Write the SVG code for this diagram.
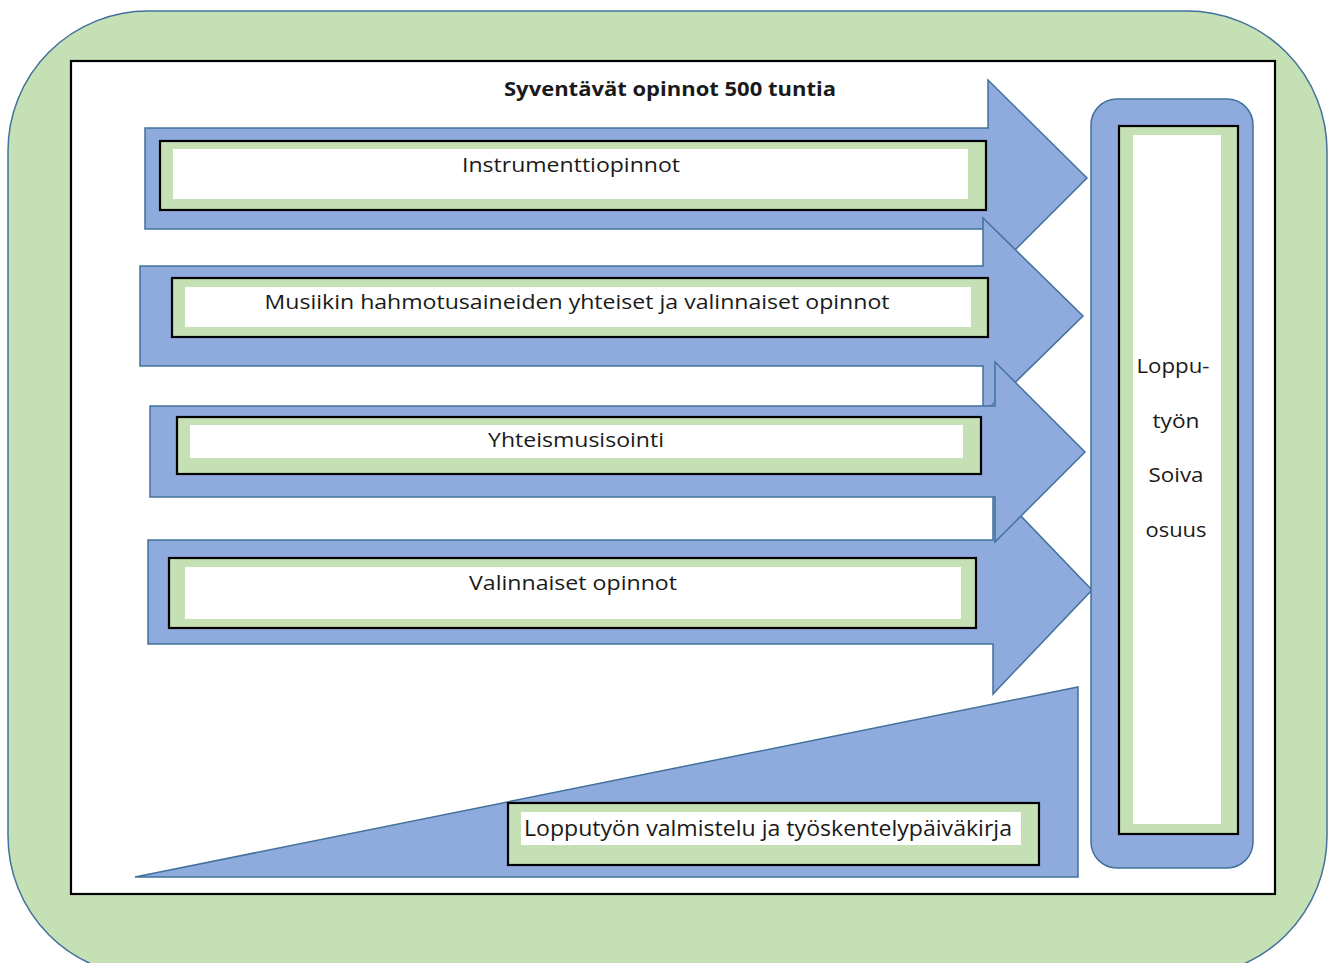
<svg xmlns="http://www.w3.org/2000/svg" width="1336" height="963" viewBox="0 0 1336 963">
<style>
.arrow{fill:#8faadc;stroke:#41719c;stroke-width:1.5;stroke-linejoin:miter}
.box{fill:#c5e0b4;stroke:#000;stroke-width:2.2}
.pad{fill:#fff}
.t{font-family:"Open Sans","Liberation Sans",sans-serif;font-size:20px;fill:#1a1a1a}
.b{font-weight:bold;font-size:19px}
</style>
<rect x="8" y="11" width="1319" height="965" rx="140" ry="140" fill="#c5e0b4" stroke="#41719c" stroke-width="1.5"/>
<rect x="71" y="61" width="1204" height="833" fill="#fff" stroke="#000" stroke-width="2.2"/>
<text class="t b" x="670" y="96" text-anchor="middle" textLength="332" lengthAdjust="spacingAndGlyphs">Syventävät opinnot 500 tuntia</text>

<g id="connectors">
<polygon id="arrow1" class="arrow" points="145,128 988,128 988,80 1087,178 988,277 988,229 145,229"/>
<polygon id="arrow2" class="arrow" points="140,266 983,266 983,218 1083,316 983,414 983,366 140,366"/>
<polygon id="arrow4" class="arrow" points="148,540 993,540 993,487 1092,590 993,694 993,644 148,644"/>
<polygon id="arrow3" class="arrow" points="150,406 995,406 995,362 1085,452 995,542 995,497 150,497"/>
<polygon id="wedge" class="arrow" points="135,877 1078,687 1078,877"/>
</g>

<g id="node-instrumentti">
<rect class="box" x="160" y="141" width="826" height="69"/>
<rect class="pad" x="173" y="149" width="795" height="50"/>
<text class="t" x="571" y="172" text-anchor="middle" textLength="218" lengthAdjust="spacingAndGlyphs">Instrumenttiopinnot</text>
</g>
<g id="node-musiikin">
<rect class="box" x="172" y="278" width="816" height="59"/>
<rect class="pad" x="185" y="287" width="786" height="40"/>
<text class="t" x="577" y="309" text-anchor="middle" textLength="625" lengthAdjust="spacingAndGlyphs">Musiikin hahmotusaineiden yhteiset ja valinnaiset opinnot</text>
</g>
<g id="node-yhteismusisointi">
<rect class="box" x="177" y="417" width="804" height="57"/>
<rect class="pad" x="190" y="425" width="773" height="33"/>
<text class="t" x="576" y="447" text-anchor="middle" textLength="176" lengthAdjust="spacingAndGlyphs">Yhteismusisointi</text>
</g>
<g id="node-valinnaiset">
<rect class="box" x="169" y="558" width="807" height="70"/>
<rect class="pad" x="185" y="567" width="776" height="52"/>
<text class="t" x="573" y="590" text-anchor="middle" textLength="208" lengthAdjust="spacingAndGlyphs">Valinnaiset opinnot</text>
</g>
<g id="node-lopputyo-valmistelu">
<rect class="box" x="508" y="803" width="531" height="62"/>
<rect class="pad" x="521" y="812" width="500" height="33"/>
<text class="t" x="524" y="836" textLength="488" lengthAdjust="spacingAndGlyphs" style="font-size:22px">Lopputyön valmistelu ja työskentelypäiväkirja</text>
</g>
<g id="node-soiva-osuus">
<rect x="1091" y="99" width="162" height="769" rx="26" ry="26" fill="#8faadc" stroke="#41719c" stroke-width="1.5"/>
<rect class="box" x="1119" y="126" width="119" height="708"/>
<rect class="pad" x="1133" y="135" width="88" height="689"/>
<text class="t" x="1173" y="373" text-anchor="middle" textLength="73" lengthAdjust="spacingAndGlyphs">Loppu-</text>
<text class="t" x="1176" y="428" text-anchor="middle" textLength="47" lengthAdjust="spacingAndGlyphs">työn</text>
<text class="t" x="1176" y="482" text-anchor="middle" textLength="55" lengthAdjust="spacingAndGlyphs">Soiva</text>
<text class="t" x="1176" y="537" text-anchor="middle" textLength="61" lengthAdjust="spacingAndGlyphs">osuus</text>
</g>
</svg>
